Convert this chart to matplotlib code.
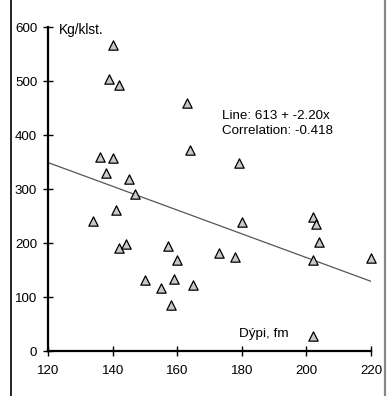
import matplotlib
matplotlib.use("Agg")
import matplotlib.pyplot as plt
from matplotlib.lines import Line2D

plt.rcParams['font.family'] = ['Liberation Sans', 'DejaVu Sans']

depth = [140, 139, 142, 163, 164, 136, 140, 138, 145, 147, 179,
         141, 134, 142, 144, 157, 160, 150, 155, 159, 158, 165,
         180, 173, 178, 202, 203, 204, 202, 220, 202]
catch = [567, 503, 493, 460, 373, 360, 358, 329, 318, 291, 349,
         261, 241, 190, 199, 194, 168, 131, 117, 133, 85, 123,
         238, 182, 175, 249, 236, 202, 168, 172, 28]

intercept = 613
slope = -2.20
correlation = -0.418

xticks = [120, 140, 160, 180, 200, 220]
yticks = [0, 100, 200, 300, 400, 500, 600]

fig = plt.figure(figsize=(3.9, 3.96), dpi=100)
ax = fig.add_axes([48/390, 1-351/396, 323/390, 324/396])

ax.scatter(depth, catch, marker='^', s=45, facecolor='#c8c8c8',
           edgecolor='black', linewidth=0.9, zorder=3, clip_on=False)

xs = [min(xticks), max(xticks)]
ax.plot(xs, [intercept + slope * x for x in xs], color='#555555', lw=0.9, zorder=2)

ax.set_xlim(120, 220)
ax.set_ylim(0, 600)
ax.set_xticks(xticks)
ax.set_yticks(yticks)
for s in ['top', 'right']:
    ax.spines[s].set_visible(False)
for s in ['left', 'bottom']:
    ax.spines[s].set_linewidth(1.6)
    ax.spines[s].set_color('black')
ax.tick_params(direction='inout', length=7.5, width=1.0, labelsize=9.6)
ax.tick_params(axis='x', pad=6)
ax.tick_params(axis='y', pad=4)

ax.text(123.5, 594, 'Kg/klst.', fontsize=9.8, ha='left', va='center')
ax.text(179, 31, 'Dýpi, fm', fontsize=9.7, ha='left', va='center')
ax.text(173.8, 436, f'Line: {intercept} + {slope:.2f}x', fontsize=9.6, ha='left', va='center')
ax.text(173.8, 407, f'Correlation: {correlation}', fontsize=9.6, ha='left', va='center')

fig.add_artist(Line2D([10.5/390, 10.5/390], [0, 1], color='black', lw=1.2))
fig.add_artist(Line2D([385/390, 385/390], [0, 1], color='#888888', lw=1.6))

fig.savefig('out.png', dpi=100)
